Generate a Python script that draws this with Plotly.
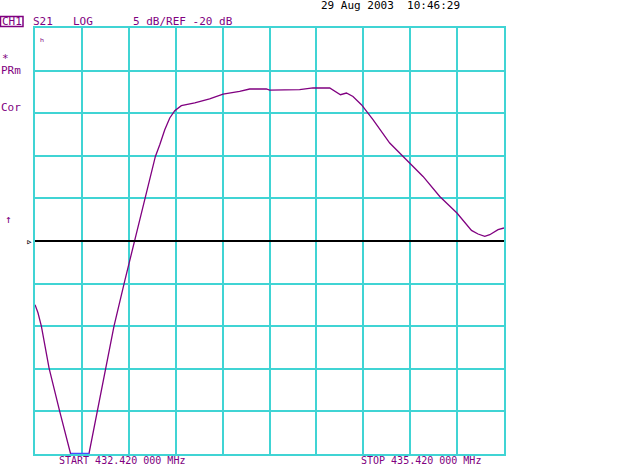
import plotly.graph_objects as go

# Frequency (MHz) and S21 magnitude (dB)
freq_mhz = [432.420, 432.439, 432.461, 432.510, 432.578, 432.648, 432.765, 432.817,
            432.872, 432.925, 432.996, 433.058, 433.090, 433.122, 433.154, 433.190,
            433.218, 433.250, 433.282, 433.314, 433.356, 433.442, 433.537, 433.623,
            433.729, 433.793, 433.900, 433.921, 434.113, 434.198, 434.305, 434.337,
            434.374, 434.412, 434.454, 434.508, 434.582, 434.689, 434.796, 434.902,
            435.009, 435.119, 435.212, 435.254, 435.297, 435.329, 435.382, 435.420]
s21_db = [-27.48, -28.42, -30.02, -34.91, -40.00, -45.00, -45.00, -40.00,
          -34.91, -30.02, -24.54, -20.00, -17.70, -15.15, -12.81, -10.07,
          -8.70, -6.94, -5.56, -4.71, -4.12, -3.80, -3.33, -2.75,
          -2.44, -2.16, -2.16, -2.28, -2.24, -2.04, -2.04, -2.36,
          -2.83, -2.63, -3.03, -4.00, -5.76, -8.50, -10.46, -12.42,
          -14.77, -16.71, -18.76, -19.18, -19.46, -19.26, -18.67, -18.47]

start_mhz = 432.42
stop_mhz = 435.42
ref_db = -20
scale_db = 5
n_div = 10
y_top = ref_db + scale_db * n_div / 2
y_bot = ref_db - scale_db * n_div / 2

W, H = 640, 465
ML, MR, MT, MB = 35, 136, 28, 11
PW, PH = W - ML - MR, H - MT - MB

def px(x):
    return (x - ML) / PW

def py(y):
    return (H - MB - y) / PH

PURPLE = "#800080"
CYAN = "#40d4d4"
FONT = "DejaVu Sans Mono"

fig = go.Figure()
fig.add_trace(go.Scatter(x=freq_mhz, y=s21_db, mode="lines",
                         line=dict(color=PURPLE, width=1.3), hoverinfo="skip"))
clip_x = [f for f, v in zip(freq_mhz, s21_db) if v <= y_bot]
clip_y = [v for v in s21_db if v <= y_bot]
fig.add_trace(go.Scatter(x=clip_x, y=clip_y, mode="lines",
                         line=dict(color="#4a4aff", width=2.5), hoverinfo="skip"))

fig.add_shape(type="line", xref="paper", yref="y", x0=0, x1=1, y0=ref_db, y1=ref_db,
              line=dict(color="black", width=2))

step = (stop_mhz - start_mhz) / n_div
fig.update_xaxes(range=[start_mhz, stop_mhz], dtick=step, tick0=start_mhz,
                 showgrid=True, gridcolor=CYAN, gridwidth=2,
                 showline=True, linecolor=CYAN, linewidth=2, mirror=True,
                 showticklabels=False, ticks="", zeroline=False, layer="below traces")
fig.update_yaxes(range=[y_bot, y_top], dtick=scale_db, tick0=y_bot,
                 showgrid=True, gridcolor=CYAN, gridwidth=2,
                 showline=True, linecolor=CYAN, linewidth=2, mirror=True,
                 showticklabels=False, ticks="", zeroline=False, layer="below traces")

def txt(x, y, s, color=PURPLE, size=11, anchor="left"):
    fig.add_annotation(xref="paper", yref="paper", x=px(x), y=py(y), text=s,
                       showarrow=False, xanchor=anchor, yanchor="middle",
                       font=dict(family=FONT, size=size, color=color))

txt(0, 21.5, "CH1")
fig.add_shape(type="rect", xref="paper", yref="paper", x0=px(0.5), x1=px(23),
              y0=py(16.5), y1=py(26.5), line=dict(color=PURPLE, width=1.5))
txt(31, 21.5, "S21")
txt(71, 21.5, "LOG")
txt(131, 21.5, "5 dB/REF -20 dB")
txt(319, 6, "29 Aug 2003  10:46:29", color="black")
txt(37, 42, "ʰ", size=10)
txt(0, 58, "*")
txt(-1, 70, "PRm")
txt(-1, 107, "Cor")
txt(3, 219, "↑")
txt(35, 241.5, "▹", color="black", size=11, anchor="right")
txt(57, 460, "START 432.420 000 MHz", size=10)
txt(359, 460, "STOP 435.420 000 MHz", size=10)

fig.update_layout(width=W, height=H, margin=dict(l=ML, r=MR, t=MT, b=MB),
                  paper_bgcolor="white", plot_bgcolor="white", showlegend=False)

fig.write_html("out.html", config={"displayModeBar": False},
               post_script="document.body.style.margin='0';document.body.style.padding='0';")
